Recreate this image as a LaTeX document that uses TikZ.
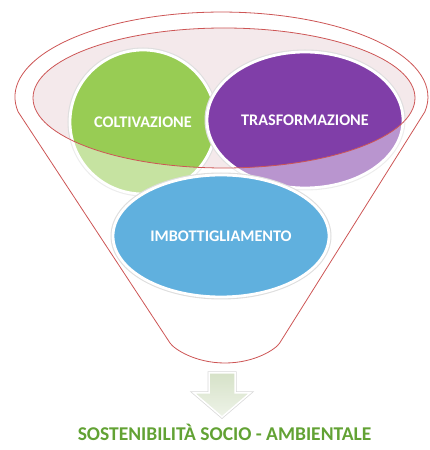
\documentclass[tikz,border=0pt]{standalone}
\usepackage{fontspec}
\setmainfont{Carlito}
\usetikzlibrary{shapes.geometric}
\definecolor{funred}{RGB}{205,85,85}
\definecolor{innerfill}{RGB}{244,233,235}
\definecolor{cgreen}{RGB}{152,204,84}
\definecolor{cpurple}{RGB}{128,62,168}
\definecolor{cblue}{RGB}{96,176,222}
\definecolor{tgreen}{RGB}{98,162,52}
\definecolor{arrtop}{RGB}{214,226,200}
\definecolor{arrbot}{RGB}{238,243,232}
\tikzset{
  blob/.style={ellipse, inner sep=0pt, fill=#1, draw=white, line width=2.8pt,
    preaction={draw=black!13, line width=5pt}, text=white,
    font=\bfseries\fontsize{16.2}{19}\selectfont},
  funnelline/.style={draw=funred, line width=0.8pt},
}
\begin{document}
\begin{tikzpicture}[x=1pt,y=1pt]
\useasboundingbox (0,0) rectangle (429,450);
% inner ellipse fill
\fill[innerfill] (224,352) ellipse [x radius=191, y radius=70];
% circles
\node[blob=cgreen, minimum width=146pt, minimum height=144pt] (colt) at (143,328) {COLTIVAZIONE};
\node[blob=cpurple, minimum width=196pt, minimum height=136pt] (trasf) at (305,330) {TRASFORMAZIONE};
% lighten parts outside the funnel mouth
\fill[white, opacity=0.45, even odd rule] (0,200) rectangle (429,450)
  (224,352) ellipse [x radius=191, y radius=70];
\node[blob=cblue, minimum width=216pt, minimum height=122pt] (imb) at (221,214) {IMBOTTIGLIAMENTO};
% funnel outlines
\draw[funnelline] (224,352) ellipse [x radius=191, y radius=70];
\draw[funnelline] (18.1,338.2) arc[start angle=190, end angle=-10, x radius=206.5, y radius=85]
  -- (279.7,107) .. controls (276,101) and (255,87) .. (225,87)
  .. controls (195,87) and (174,101) .. (170,107) -- cycle;
% arrow
\path[draw=white, line width=1.5pt, preaction={draw=black!15, line width=3pt},
  top color=arrtop, bottom color=arrbot]
  (209,77) -- (235,77) -- (235,57) -- (250,57) -- (222,33) -- (194,57) -- (209,57) -- cycle;
% bottom caption
\node[text=tgreen, font=\bfseries\fontsize{19.5}{23}\selectfont] (sost) at (224.5,18)
  {SOSTENIBILITÀ SOCIO - AMBIENTALE};
\end{tikzpicture}
\end{document}
